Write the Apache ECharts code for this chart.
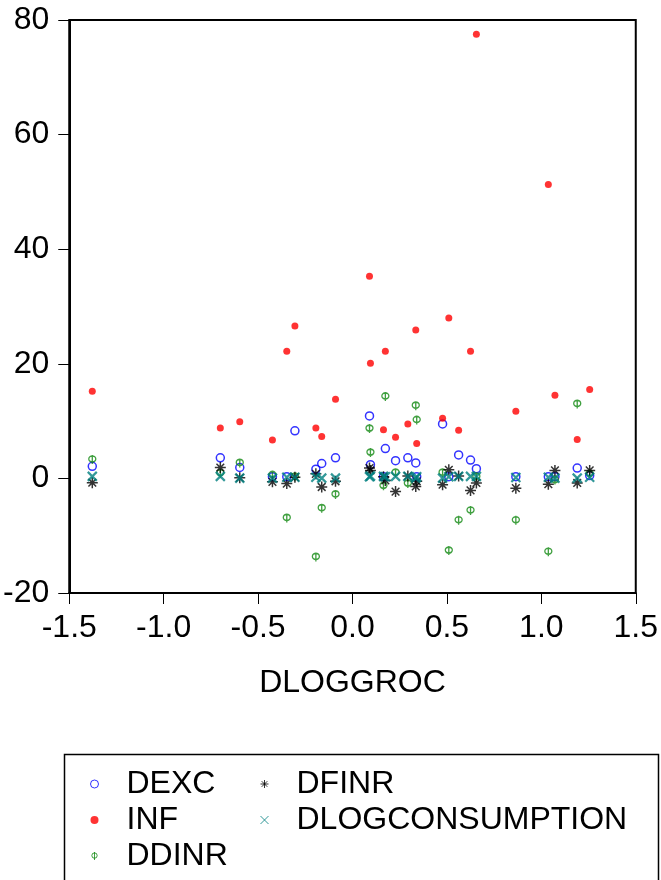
<!DOCTYPE html>
<html>
<head>
<meta charset="utf-8">
<script src="https://cdn.jsdelivr.net/npm/echarts@6/dist/echarts.min.js"></script>
<style>
html,body{margin:0;padding:0;background:#fff;}
#chart{width:661px;height:880px;}
</style>
</head>
<body>
<div id="chart"></div>
<script>
// DLOGGROC (x values)
const dloggroc = [-1.378, -0.70, -0.597, -0.424, -0.348, -0.305, -0.194, -0.163, -0.09, 0.090, 0.095, 0.164, 0.174, 0.228, 0.293, 0.335, 0.340, 0.477, 0.510, 0.562, 0.625, 0.656, 0.865, 1.037, 1.072, 1.190, 1.256];
const dexc = [2.1, 3.6, 1.9, 0.3, 0.3, 8.3, 1.6, 2.6, 3.6, 10.9, 2.4, 0.3, 5.2, 3.1, 3.6, 2.7, 0.3, 9.5, 0.3, 4.1, 3.2, 1.7, 0.3, 0.3, 0.3, 1.8, 0.5];
const inf = [15.2, 8.8, 9.9, 6.7, 22.2, 26.6, 8.8, 7.3, 13.8, 35.3, 20.1, 8.5, 22.2, 7.2, 9.5, 25.9, 6.1, 10.5, 28.0, 8.4, 22.2, 77.5, 11.7, 51.3, 14.5, 6.8, 15.5];
const ddinr = [3.3, 0.9, 2.7, 0.6, -6.9, 0.3, -13.7, -5.2, -2.8, 8.7, 4.5, -1.3, 14.3, 1.0, -0.9, 12.7, 10.2, 1.0, -12.6, -7.3, -5.6, 0.3, -7.3, -12.8, -0.3, 13.0, 0.8];
const dfinr = [-0.75, 1.9, 0.1, -0.6, -0.9, 0.2, 0.8, -1.5, -0.5, 1.8, 1.4, 0.3, -0.35, -2.3, 0.4, -1.4, -0.5, -1.1, 1.5, 0.4, -2.1, -0.8, -1.7, -1.0, 1.4, -0.8, 1.4];
const dlogconsumption = [0.35, 0.35, 0.05, 0.05, 0.2, 0.2, 0.2, 0.05, 0.05, 0.3, 0.4, 0.35, 0.3, 0.35, 0.35, 0.05, 0.3, 0.05, 0.3, 0.35, 0.35, 0.35, 0.17, 0.2, 0.05, 0.05, 0.2];
const xTicks = [-1.5, -1.0, -0.5, 0.0, 0.5, 1.0, 1.5];
const yTicks = [-20, 0, 20, 40, 60, 80];
const seriesNames = ['DEXC', 'INF', 'DDINR', 'DFINR', 'DLOGCONSUMPTION'];
const seriesValues = [dexc, inf, ddinr, dfinr, dlogconsumption];

const FONT = 'Liberation Sans, Arial, sans-serif';
const styles = {
  DEXC: {symbol: 'circle', symbolSize: 8, itemStyle: {color: 'rgba(0,0,0,0)', borderColor: '#0000FF', borderWidth: 1.5}},
  INF: {symbol: 'circle', symbolSize: 7, itemStyle: {color: '#FF0000'}},
  DDINR: {symbol: 'path://M2 6 A3 3 0 1 0 8 6 A3 3 0 1 0 2 6 M5 2 L5 11', symbolSize: [7, 9], itemStyle: {color: 'rgba(0,0,0,0)', borderColor: '#108810', borderWidth: 1.5}},
  DFINR: {symbol: 'path://M5 0 L5 10 M0 5 L10 5 M1.5 1.5 L8.5 8.5 M8.5 1.5 L1.5 8.5', symbolSize: 11, itemStyle: {color: 'rgba(0,0,0,0)', borderColor: '#000000', borderWidth: 1.5}},
  DLOGCONSUMPTION: {symbol: 'path://M0 0 L10 10 M10 0 L0 10', symbolSize: 9, itemStyle: {color: 'rgba(0,0,0,0)', borderColor: '#008080', borderWidth: 2.2}}
};

const series = seriesNames.map((name, i) => Object.assign({
  name: name,
  type: 'scatter',
  data: dloggroc.map((x, j) => [x, seriesValues[i][j]]),
  emphasis: {disabled: true},
  animation: false
}, styles[name]));

const legendCommon = {
  orient: 'vertical',
  itemWidth: 54,
  itemHeight: 8,
  itemGap: 4,
  itemStyle: {borderWidth: 1},
  textStyle: {fontSize: 32, color: '#000', fontFamily: FONT},
  selectedMode: false
};

const chart = echarts.init(document.getElementById('chart'), null, {renderer: 'canvas'});
chart.setOption({
  animation: false,
  backgroundColor: '#fff',
  grid: {left: 66, right: 20, top: 20, bottom: 287, show: true, borderColor: '#000', borderWidth: 2, backgroundColor: 'transparent'},
  xAxis: {
    type: 'value', min: xTicks[0], max: xTicks[xTicks.length - 1], interval: 0.5,
    name: 'DLOGGROC', nameLocation: 'middle', nameGap: 74,
    nameTextStyle: {fontSize: 32, color: '#000', fontFamily: FONT},
    axisLine: {show: true, onZero: false, lineStyle: {color: '#000', width: 2}},
    axisTick: {show: true, length: 11, lineStyle: {color: '#000', width: 1}},
    axisLabel: {fontSize: 32, color: '#000', fontFamily: FONT, margin: 19, formatter: v => v.toFixed(1)},
    splitLine: {show: false}
  },
  yAxis: {
    type: 'value', min: yTicks[0], max: yTicks[yTicks.length - 1], interval: 20,
    axisLine: {show: true, onZero: false, lineStyle: {color: '#000', width: 2}},
    axisTick: {show: true, length: 11, lineStyle: {color: '#000', width: 1}},
    axisLabel: {fontSize: 32, color: '#000', fontFamily: FONT, margin: 20},
    splitLine: {show: false}
  },
  legend: [
    Object.assign({left: 85, top: 763, data: seriesNames.slice(0, 3)}, legendCommon),
    Object.assign({left: 255, top: 763, data: seriesNames.slice(3)}, legendCommon)
  ],
  graphic: [{
    type: 'rect', left: 62, top: 752, shape: {width: 594, height: 127},
    style: {fill: 'none', stroke: '#000', lineWidth: 1.5}
  }],
  series: series
});
</script>
</body>
</html>
